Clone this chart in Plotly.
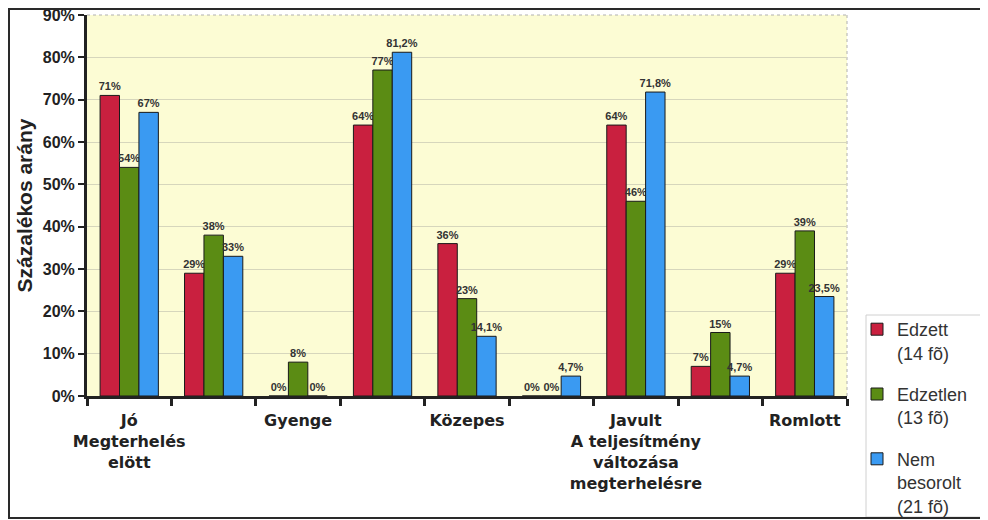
import plotly.graph_objects as go

categories = ["Jó<br>Megterhelés<br>elött", "", "Gyenge", "", "Közepes", "",
              "Javult<br>A teljesítmény<br>változása<br>megterhelésre", "", "Romlott"]
edzett = [71, 29, 0, 64, 36, 0, 64, 7, 29]
edzetlen = [54, 38, 8, 77, 23, 0, 46, 15, 39]
nem_besorolt = [67, 33, 0, 81.2, 14.1, 4.7, 71.8, 4.7, 23.5]
series_names = ["Edzett<br>(14 fõ)", "Edzetlen<br>(13 fõ)", "Nem<br>besorolt<br>(21 fõ)"]
colors = ["#C9203F", "#5B8C14", "#3A9AF2"]
y_ticks = [0, 10, 20, 30, 40, 50, 60, 70, 80, 90]

def fmt(v):
    return f"{v:g}".replace(".", ",") + "%"

x = list(range(len(categories)))
fig = go.Figure()
for i, (name, vals, col) in enumerate(zip(series_names, [edzett, edzetlen, nem_besorolt], colors)):
    fig.add_trace(go.Bar(
        x=x, y=vals, name=name, legendgroup=f"g{i}",
        marker=dict(color=col, line=dict(color="#1a1a1a", width=1)),
        text=[fmt(v) for v in vals], textposition="outside", constraintext="none",
        textfont=dict(family="Liberation Sans, Arial", size=11, color="#333333", weight="bold"),
        cliponaxis=False,
    ))

# page has an 8px body margin; work in reference coordinates shifted by OFF
OFF = 8
W, H = 988 - OFF, 520 - OFF
L, R, T, B = 87 - OFF, 847 - OFF, 15 - OFF, 396 - OFF
pw, ph = R - L, B - T
def px(xr): return (xr - OFF - L) / pw
def py(yr): return (B - (yr - OFF)) / ph

fig.update_layout(
    width=W, height=H,
    margin=dict(l=L, r=W - R, t=T, b=H - B, pad=0, autoexpand=False),
    paper_bgcolor="white", plot_bgcolor="#FCFCD4",
    barmode="group", bargap=0.31, bargroupgap=0.0,
    font=dict(family="Liberation Sans, Arial", color="#222222"),
    showlegend=True,
    legend=dict(
        x=px(857), y=py(311), xanchor="left", yanchor="top", valign="top",
        font=dict(family="Liberation Sans, Arial", size=18, color="#333333"),
        bgcolor="rgba(0,0,0,0)", borderwidth=0,
        tracegroupgap=15, itemwidth=30,
    ),
    xaxis=dict(
        range=[-0.5, len(categories) - 0.5], automargin=False,
        tickmode="array", tickvals=x, ticktext=categories,
        ticks="", showgrid=False, zeroline=False, ticklabelstandoff=8,
        showline=True, linecolor="#222222", linewidth=3,
        tickfont=dict(family="DejaVu Sans", size=16, color="#222222", weight="bold"),
        minor=dict(tickmode="array", tickvals=[i - 0.5 for i in range(len(categories) + 1)],
                   ticks="outside", ticklen=7, tickwidth=3, tickcolor="#222222", showgrid=False),
    ),
    yaxis=dict(
        range=[0, 90], tickmode="array", tickvals=y_ticks, automargin=False,
        ticktext=[f"{v}%" for v in y_ticks], ticklabeloverflow="allow",
        ticks="outside", ticklen=6, tickwidth=2, tickcolor="#222222",
        showline=True, linecolor="#222222", linewidth=3,
        showgrid=True, gridcolor="#d6d6bc", gridwidth=1, zeroline=False,
        tickfont=dict(family="Liberation Sans, Arial", size=16, color="#222222", weight="bold"),
        title=dict(text="Százalékos arány", standoff=5,
                   font=dict(family="Liberation Sans, Arial", size=21, color="#222222", weight="bold")),
    ),
    shapes=[
        dict(type="line", xref="paper", yref="paper", x0=0, x1=1, y0=1, y1=1,
             line=dict(color="#b0b0b0", width=1, dash="dot"), layer="below"),
        dict(type="line", xref="paper", yref="paper", x0=1, x1=1, y0=0, y1=1,
             line=dict(color="#b0b0b0", width=1, dash="dot"), layer="below"),
        dict(type="rect", xref="paper", yref="paper",
             x0=px(866), x1=px(981), y0=py(517), y1=py(315),
             line=dict(color="#d0d0d0", width=1), fillcolor="white", layer="below"),
        dict(type="rect", xref="paper", yref="paper",
             x0=px(9), x1=px(984), y0=py(518), y1=py(9),
             line=dict(color="#2a2a2a", width=2), fillcolor="rgba(0,0,0,0)"),
    ],
)

fig.write_html("out.html")
